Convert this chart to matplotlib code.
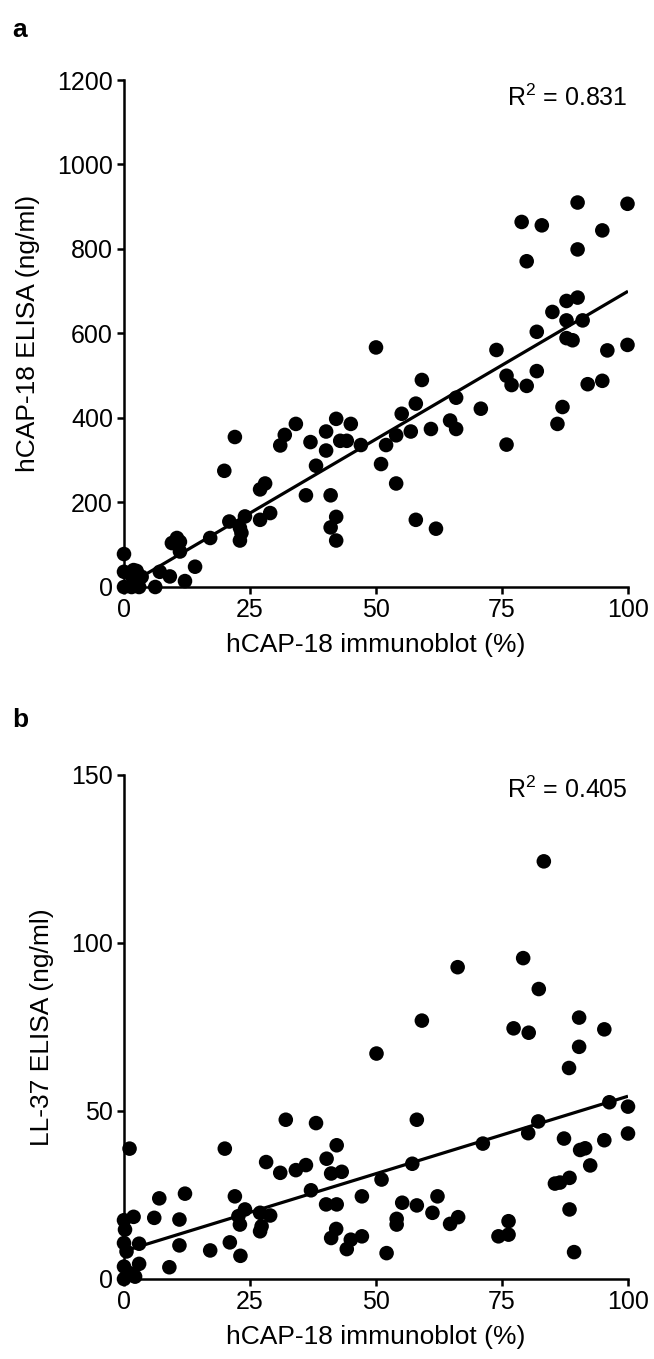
import numpy as np
import matplotlib
matplotlib.use("Agg")
import matplotlib.pyplot as plt

plt.rcParams['font.family'] = ['Liberation Sans', 'DejaVu Sans']
plt.rcParams['mathtext.fontset'] = 'custom'
plt.rcParams['mathtext.rm'] = 'Liberation Sans'
plt.rcParams['mathtext.it'] = 'Liberation Sans'

# panel a: hCAP-18 immunoblot (%) vs hCAP-18 ELISA (ng/ml)
a_x = [0, 0, 0, 1.9, 2.5, 3.5, 1.5, 3, 1.8, 6.2, 7.1, 9.1, 12.1, 14.1, 9.5, 10.5,
       11.1, 11.1, 17.1, 19.9, 22.0, 20.9, 23, 23, 23.3, 24, 27, 28, 27, 29, 31,
       50, 59.1, 31.9, 34.1, 37, 40.1, 40.1, 42.1, 42.9, 44.2, 45, 47, 38.1, 36.1,
       41, 42.1, 41, 42.1, 51, 52, 54, 54, 55.1, 56.9, 57.9, 57.9, 60.9, 61.9, 64.7,
       90, 99.9, 78.9, 82.9, 94.9, 90, 79.9, 87.8, 90, 85, 87.8, 91, 81.9, 87.8, 89,
       73.9, 95.9, 99.9, 75.9, 76.9, 79.9, 81.9, 92, 94.9, 87, 86, 65.9, 70.8,
       65.9, 75.9]
a_y = [78, 36, 0, 40, 38, 24, 0, 0, 20, 0, 36, 25, 14, 48, 104, 116,
       107, 84, 116, 275, 355, 155, 140, 110, 128, 167, 231, 245, 159, 175, 335,
       567, 490, 360, 386, 343, 368, 323, 398, 346, 346, 386, 336, 287, 217,
       217, 166, 141, 110, 291, 336, 359, 245, 410, 368, 434, 159, 374, 138, 394,
       910, 907, 864, 856, 844, 799, 771, 677, 685, 651, 631, 631, 604, 589, 584,
       561, 560, 573, 500, 478, 476, 511, 480, 488, 426, 386, 448, 422,
       374, 337]
a_fit_x = [0, 100]
a_fit_y = [0, 700]
a_r2 = "R$^2$ = 0.831"

# panel b: hCAP-18 immunoblot (%) vs LL-37 ELISA (ng/ml)
b_x = [1.1, 20, 12.1, 7, 6, 11, 1.9, 0, 0.2, 0, 3, 0.5, 3, 0, 1.2, 2.2, 0, 9, 11,
       17.1, 21, 23.1, 22, 23, 24, 22.7, 27, 29, 27.3, 27, 28.2, 31,
       59.1, 50.1, 32.1, 38.1, 58.1, 42.2, 40.2, 34.1, 36.1, 41.1, 43.2, 37.1,
       51.1, 57.2, 47.2, 40.1, 42.2, 42.1, 41.1, 45, 44.2, 47.2, 52.1, 55.2,
       54.1, 54.1, 58.1, 62.2, 61.2, 64.7,
       83.3, 79.2, 66.2, 82.3, 90.3, 77.3, 80.3, 95.3, 90.3,
       88.3, 96.3, 100, 82.2, 80.2, 71.2, 87.3, 95.3, 100, 90.5, 91.5, 92.5,
       85.5, 86.5, 88.4, 88.4, 89.3, 66.3, 74.3, 76.3, 76.3]
b_y = [38.8, 38.8, 25.4, 24, 18.2, 17.7, 18.5, 17.5, 14.7, 10.7, 10.5, 8.2, 4.5,
       3.7, 1.7, 0.7, 0, 3.5, 10, 8.5, 10.9, 6.9, 24.6, 16.2, 20.7, 18.7, 19.7,
       18.9, 15.7, 14.2, 34.8, 31.6,
       76.9, 67.1, 47.4, 46.4, 47.4, 39.8, 35.8, 32.4, 33.9, 31.4, 31.9, 26.4,
       29.6, 34.3, 24.6, 22.2, 22.2, 14.9, 12.2, 11.7, 8.9, 12.7, 7.7, 22.7,
       17.9, 16.2, 21.9, 24.6, 19.7, 16.4,
       124.3, 95.5, 92.8, 86.3, 77.8, 74.6, 73.3, 74.3, 69.1,
       62.8, 52.6, 51.3, 46.9, 43.4, 40.3, 41.8, 41.3, 43.3, 38.4, 38.9, 33.8,
       28.4, 28.7, 30.1, 20.7, 8.0, 18.4, 12.7, 13.2, 17.2]
b_fit_x = [0, 100]
b_fit_y = [8.3, 54.4]
b_r2 = "R$^2$ = 0.405"

x_ticks = [0, 25, 50, 75, 100]
a_yticks = [0, 200, 400, 600, 800, 1000, 1200]
b_yticks = [0, 50, 100, 150]

W, H = 654, 1359
fig = plt.figure(figsize=(W / 100, H / 100), dpi=100)
ax_a = fig.add_axes([124 / W, (H - 587) / H, 504 / W, 507 / H])
ax_b = fig.add_axes([124 / W, (H - 1279) / H, 504 / W, 504 / H])

fs_lab = 19
fs_tick = 18


def style(ax, xs, ys, fx, fy, yticks, ylabel, r2, r2_off):
    ax.plot(fx, fy, color='black', lw=2.3, zorder=2, solid_capstyle='butt')
    ax.scatter(xs, ys, s=110, color='black', edgecolors='none', zorder=3, clip_on=False)
    ax.set_xlim(0, 100)
    ax.set_ylim(yticks[0], yticks[-1])
    ax.set_xticks(x_ticks)
    ax.set_yticks(yticks)
    for side in ['top', 'right']:
        ax.spines[side].set_visible(False)
    for side in ['left', 'bottom']:
        ax.spines[side].set_linewidth(1.8)
    ax.tick_params(direction='out', length=5, width=1.8, labelsize=fs_tick, pad=3)
    ax.set_xlabel('hCAP-18 immunoblot (%)', fontsize=fs_lab, labelpad=8)
    ax.set_ylabel(ylabel, fontsize=fs_lab, labelpad=12)
    ax.text(1.0, 1 - r2_off, r2, transform=ax.transAxes, ha='right', va='center', fontsize=fs_tick)


style(ax_a, a_x, a_y, a_fit_x, a_fit_y, a_yticks, 'hCAP-18 ELISA (ng/ml)', a_r2, 18 / 507)
style(ax_b, b_x, b_y, b_fit_x, b_fit_y, b_yticks, 'LL-37 ELISA (ng/ml)', b_r2, 15 / 504)

fig.text(20 / W, 1 - 30 / H, 'a', fontsize=fs_lab, fontweight='bold', ha='center', va='center')
fig.text(20 / W, 1 - 720 / H, 'b', fontsize=fs_lab, fontweight='bold', ha='center', va='center')

fig.savefig('out.png', dpi=100)
